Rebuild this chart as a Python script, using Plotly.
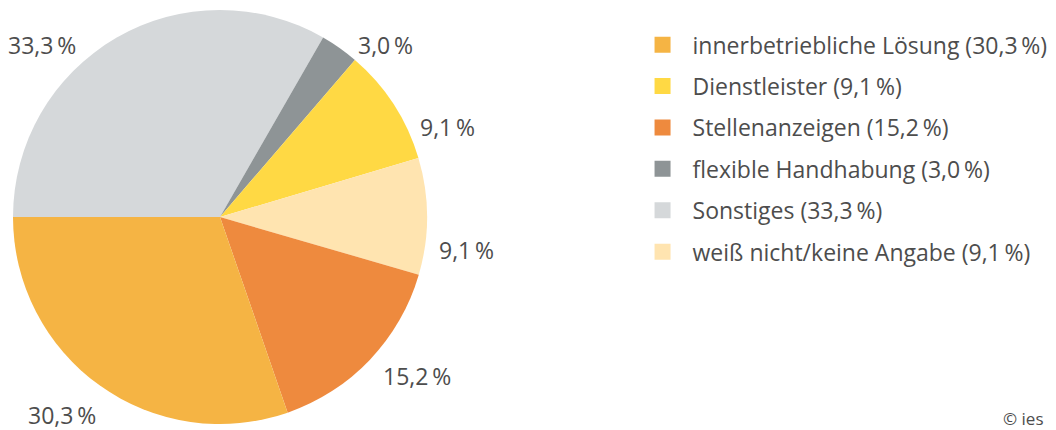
import math
import plotly.graph_objects as go

# slices, clockwise from 9 o'clock
slice_labels = ["Sonstiges", "flexible Handhabung", "Dienstleister",
                "weiß nicht/keine Angabe", "Stellenanzeigen", "innerbetriebliche Lösung"]
slice_values = [33.3, 3.0, 9.1, 9.1, 15.2, 30.3]
slice_colors = ["#D5D8DA", "#8E9496", "#FFD944", "#FFE4B0", "#EE8A3E", "#F5B444"]

# legend order
legend_labels = ["innerbetriebliche Lösung", "Dienstleister", "Stellenanzeigen",
                 "flexible Handhabung", "Sonstiges", "weiß nicht/keine Angabe"]

def fmt(v):
    return f"{v:.1f}".replace(".", ",") + "\u2009%"

color_of = dict(zip(slice_labels, slice_colors))
value_of = dict(zip(slice_labels, slice_values))

W, H = 1056, 430
FONT = "Open Sans"
TXT = "#4d4d4d"
FS = 23

# pie placement (pixels)
CX, CY, R = 220, 217, 207

fig = go.Figure()
fig.add_trace(go.Pie(
    labels=slice_labels, values=slice_values, sort=False,
    direction="clockwise", rotation=-90,
    marker=dict(colors=slice_colors, line=dict(width=0)),
    textinfo="none", showlegend=False, hoverinfo="label+percent",
    domain=dict(x=[(CX - R) / W, (CX + R) / W], y=[1 - (CY + R) / H, 1 - (CY - R) / H]),
))

# label nudges (pixels) relative to a point just outside the slice middle
nudge = {
    "Sonstiges": (-34, 14),
    "flexible Handhabung": (12, 4),
    "Dienstleister": (18, 27),
    "weiß nicht/keine Angabe": (2, 34),
    "Stellenanzeigen": (5, 11),
    "innerbetriebliche Lösung": (3, 23),
}

annotations = []
total = sum(slice_values)
cum = 0.0
for lab, v in zip(slice_labels, slice_values):
    mid = math.radians(180 - (cum + v / 2) / total * 360)
    cum += v
    px = CX + (R + 8) * math.cos(mid)
    py = CY - (R + 8) * math.sin(mid)
    dx, dy = nudge[lab]
    px += dx
    py += dy
    c = math.cos(mid)
    xa = "left" if c > 0.1 else ("right" if c < -0.1 else "center")
    annotations.append(dict(
        text=fmt(v), x=px / W, y=1 - py / H, xref="paper", yref="paper",
        xanchor=xa, yanchor="middle", showarrow=False,
        font=dict(family=FONT, size=FS, color=TXT),
    ))

for i, lab in enumerate(legend_labels):
    fig.add_trace(go.Scatter(
        x=[None], y=[None], mode="markers",
        marker=dict(symbol="square", size=16, color=color_of[lab]),
        name=f"{lab} ({fmt(value_of[lab])})", legendgroup=f"g{i}",
        showlegend=True,
    ))

annotations.append(dict(text="© ies", x=1046 / W, y=1 - 418 / H, xref="paper", yref="paper",
                        xanchor="right", yanchor="middle", showarrow=False,
                        font=dict(family=FONT, size=17, color=TXT)))

fig.update_layout(
    width=W, height=H, margin=dict(l=0, r=0, t=0, b=0),
    paper_bgcolor="white", plot_bgcolor="white",
    xaxis=dict(visible=False), yaxis=dict(visible=False),
    legend=dict(x=0.599, y=0.946, xanchor="left", yanchor="top",
                font=dict(family=FONT, size=FS, color=TXT),
                tracegroupgap=8.5, itemsizing="trace", itemwidth=50),
    annotations=annotations,
)

fig.write_html("out.html", config={"displayModeBar": False},
               post_script="document.body.style.margin='0';")
